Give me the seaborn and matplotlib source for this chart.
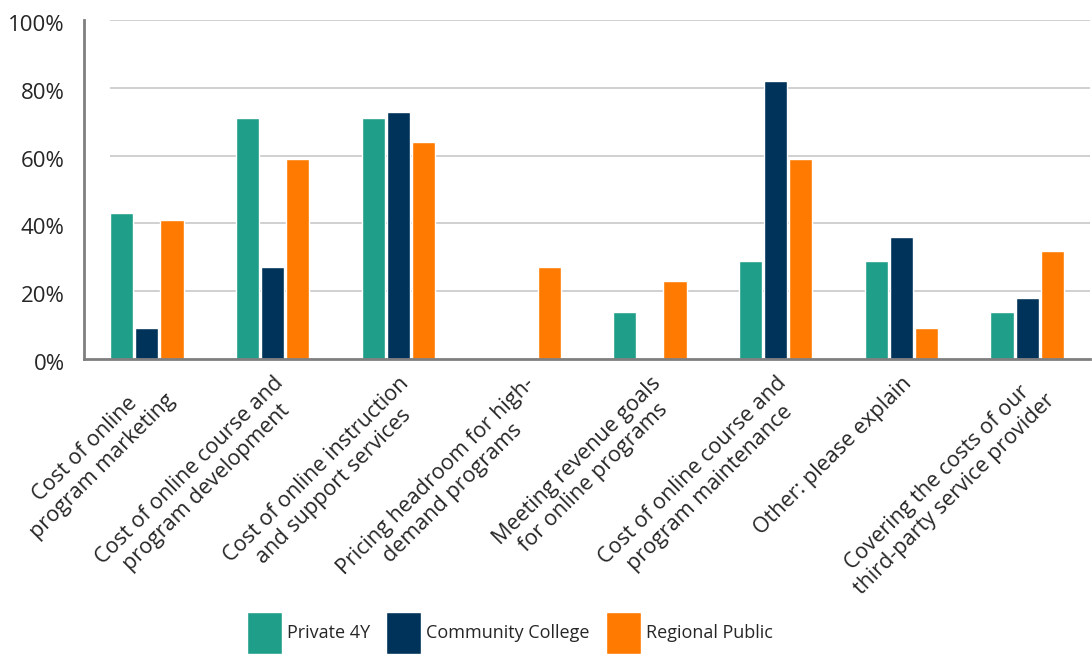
import matplotlib
matplotlib.use("Agg")
import matplotlib.pyplot as plt
import matplotlib.transforms as mtransforms
import seaborn as sns
import pandas as pd
import numpy as np
from matplotlib.ticker import FixedLocator, PercentFormatter
from matplotlib import font_manager

categories = [
    "Cost of online\nprogram marketing",
    "Cost of online course and\nprogram development",
    "Cost of online instruction\nand support services",
    "Pricing headroom for high-\ndemand programs",
    "Meeting revenue goals\nfor online programs",
    "Cost of online course and\nprogram maintenance",
    "Other: please explain",
    "Covering the costs of our\nthird-party service provider",
]
series_names = ["Private 4Y", "Community College", "Regional Public"]
private_4y = [43, 71, 71, 0, 14, 29, 29, 14]
community_college = [9, 27, 73, 0, 0, 82, 36, 18]
regional_public = [41, 59, 64, 27, 23, 59, 9, 32]
colors = ["#1F9E89", "#003359", "#FF7A00"]

rows = []
for name, vals in zip(series_names, [private_4y, community_college, regional_public]):
    for c, v in zip(categories, vals):
        rows.append({"category": c, "series": name, "value": v})
df = pd.DataFrame(rows)

sns.set_theme(style="white")
plt.rcParams["font.family"] = ["Open Sans", "DejaVu Sans"]

available = {f.name for f in font_manager.fontManager.ttflist}
if "Liberation Sans Narrow" in available:
    legend_family, legend_size = "Liberation Sans Narrow", 14.5
else:
    legend_family, legend_size = "Open Sans", 13

fig = plt.figure(figsize=(10.92, 6.55), dpi=100)
ax = fig.add_axes([84 / 1092, 1 - 359 / 655, 1006 / 1092, (359 - 20) / 655])

sns.barplot(data=df, x="category", y="value", hue="series", order=categories,
            hue_order=series_names, palette=colors, width=0.6, gap=0.08,
            saturation=1, ax=ax, legend=True, errorbar=None)

ax.set_ylim(0, 100)
ax.set_xlim(-0.5, len(categories) - 0.5)
ax.yaxis.set_major_locator(FixedLocator([0, 20, 40, 60, 80, 100]))
ax.yaxis.set_major_formatter(PercentFormatter(decimals=0))
for t in [20, 40, 60, 80, 100]:
    ax.hlines(t, -0.29, len(categories) - 0.5, color="#C8C8C8", lw=1.2, zorder=0)
ax.set_axisbelow(True)

ax.set_xlabel("")
ax.set_ylabel("")
for s in ["top", "right"]:
    ax.spines[s].set_visible(False)
for s in ["left", "bottom"]:
    ax.spines[s].set_color("#7F7F7F")
    ax.spines[s].set_linewidth(2)

ax.tick_params(axis="y", length=0, pad=14, labelsize=16, labelcolor="#262626")
for lbl in ax.get_yticklabels():
    lbl.set_transform(lbl.get_transform() + mtransforms.ScaledTranslation(0, -3 / 100, fig.dpi_scale_trans))

ax.set_xticks(range(len(categories)))
ax.set_xticklabels(categories, rotation=45, ha="right", rotation_mode="anchor",
                   fontsize=15.5, color="#262626")
shift = mtransforms.ScaledTranslation(-8 / 100, 0, fig.dpi_scale_trans)
for lbl in ax.get_xticklabels():
    lbl.set_multialignment("center")
    lbl.set_transform(lbl.get_transform() + shift)
ax.tick_params(axis="x", which="major", length=0, pad=10)
ax.set_xticks(np.arange(0.5, len(categories), 1), minor=True)
ax.tick_params(axis="x", which="minor", length=15, width=2, color="#7F7F7F", direction="out")

px = legend_size * 100 / 72
handles, labels = ax.get_legend_handles_labels()
ax.get_legend().remove()
fig.legend(handles, labels, loc="center", bbox_to_anchor=(510 / 1092, 1 - 633 / 655),
           ncol=3, frameon=False, handlelength=35 / px, handleheight=45 / px + 0.7,
           handletextpad=5 / px, columnspacing=16 / px, labelcolor="#262626",
           borderpad=0, prop={"family": legend_family, "size": legend_size})

fig.savefig("out.png", dpi=100)
